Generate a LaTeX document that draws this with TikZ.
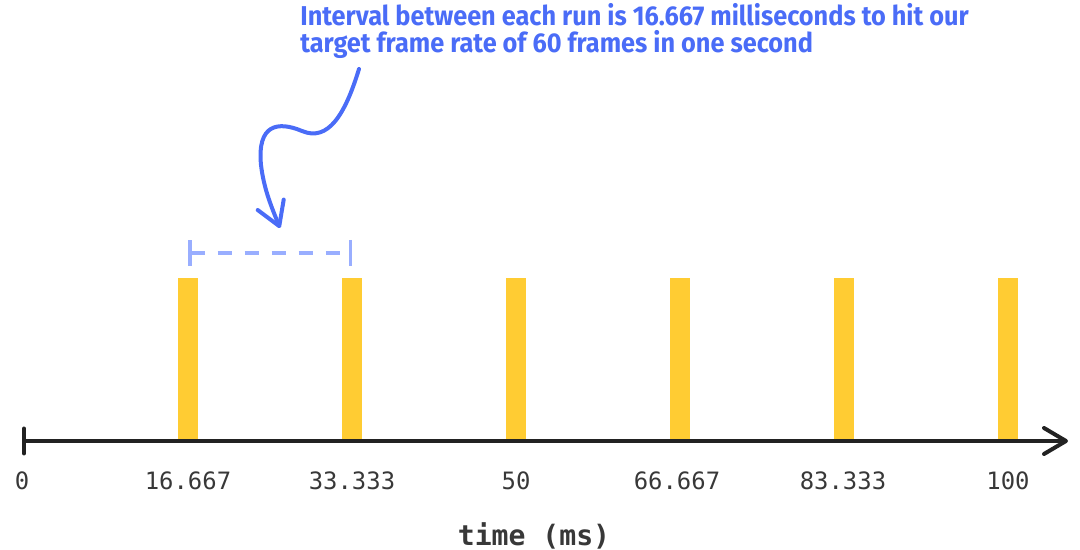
\documentclass[tikz,border=0pt]{standalone}
\usepackage{fontspec}
\usetikzlibrary{arrows.meta}
\newfontfamily\notefont{Fira Sans}[FakeStretch=0.93]
\newfontfamily\axisfont{DejaVu Sans Mono}
\definecolor{barcol}{HTML}{FFCC33}
\definecolor{notecol}{HTML}{4A6CF7}
\definecolor{spancol}{HTML}{99AEFF}
\definecolor{axiscol}{HTML}{222222}

\begin{document}
\begin{tikzpicture}[x=0.02cm, y=-0.02cm,
        bar/.style={fill=barcol, draw=none, inner sep=0pt, anchor=south,
            minimum width=0.4cm, minimum height=3.26cm},
        ticklabel/.style={font=\axisfont\fontsize{13.6}{15}\selectfont, text=axiscol!90, inner sep=0pt},
        note/.style={font=\notefont\bfseries\fontsize{15.5}{17}\selectfont, text=notecol,
            anchor=base west, inner sep=0pt}]
        \useasboundingbox (0,0) rectangle (1080,550);

        % axis
        \coordinate (o) at (22,441);
        \coordinate (e) at (1068,441);

        % frames
        \node[bar] (f1) at (188,441) {};
        \node[bar] (f2) at (352,441) {};
        \node[bar] (f3) at (516,441) {};
        \node[bar] (f4) at (680,441) {};
        \node[bar] (f5) at (844,441) {};
        \node[bar] (f6) at (1008,441) {};

        \draw[axiscol, line width=0.08cm, line cap=round,
            {Bar[width=0.5cm, line cap=round]}-{Straight Barb[length=0.44cm, width=0.52cm, line cap=round, line join=round]}]
            (o) -- (e);

        % labels
        \node[ticklabel] (l0) at (22,481) {0};
        \node[ticklabel] (l1) at (188,481) {16.667};
        \node[ticklabel] (l2) at (352,481) {33.333};
        \node[ticklabel] (l3) at (516,481) {50};
        \node[ticklabel] (l4) at (677,481) {66.667};
        \node[ticklabel] (l5) at (843,481) {83.333};
        \node[ticklabel] (l6) at (1008,481) {100};
        \node[font=\axisfont\bfseries\fontsize{16}{18}\selectfont, text=axiscol!90] (xlabel) at (534,536) {time (ms)};

        % interval between two runs
        \coordinate (s1) at (188,253);
        \coordinate (s2) at (352,253);
        \draw[spancol, line width=0.07cm, dash pattern=on 0.28cm off 0.26cm,
            {Bar[width=0.52cm]}-{Bar[width=0.52cm]}] (s1) -- (s2);

        % annotation
        \node[note] (note1) at (300,26) {Interval between each run is 16.667 milliseconds to hit our};
        \node[note] (note2) at (300,53) {target frame rate of 60 frames in one second};

        \coordinate (from) at (359,69);
        \coordinate (to) at (280,228);
        \draw[notecol, line width=0.08cm, line cap=round,
            -{Straight Barb[length=0.46cm, width=0.56cm, line cap=round, line join=round]}]
            (from) .. controls (345,115) and (328,142) .. (302,131)
            .. controls (278,121) and (257,124) .. (261,165)
            .. controls (264,190) and (272,208) .. (to);
\end{tikzpicture}
\end{document}
